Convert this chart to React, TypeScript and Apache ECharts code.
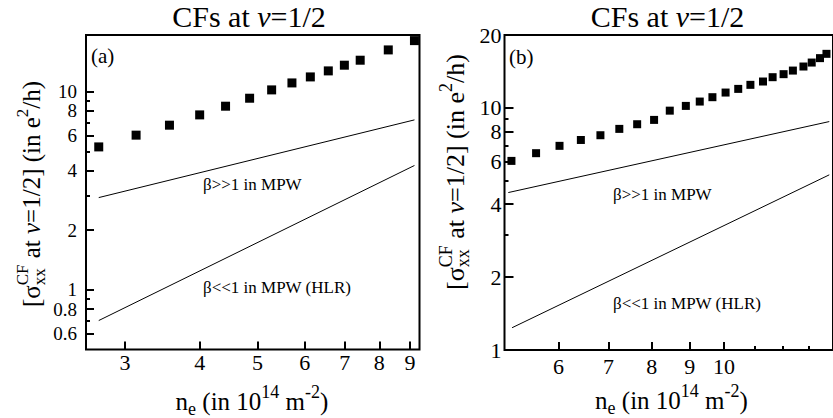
import React, { useEffect, useRef } from "react";
import * as echarts from "echarts";

const FONT = "Liberation Serif, DejaVu Serif, serif";
const CANVAS_FONT = "Liberation Serif, serif";

// ---------- Panel (a) ----------
const aDensity = [2.71, 3.13, 3.56, 4.0, 4.42, 4.85, 5.28, 5.71, 6.13, 6.57, 6.99, 7.43, 8.28, 9.16];
const aSigma = [5.26, 6.03, 6.77, 7.63, 8.44, 9.26, 10.2, 11.06, 11.86, 12.72, 13.59, 14.4, 16.23, 18.08];
const aLineX = [2.71, 9.16];
const aMpwLarge = [2.92, 7.2];
const aMpwSmall = [0.7, 4.24];
const aXRange = [2.58, 9.34];
const aYRange = [0.5, 19.3];
const aXMajor = [3, 4, 5, 6, 7, 8, 9];
const aYMajor = [0.6, 0.8, 1, 2, 4, 6, 8, 10];
const aYLabelsSetA = [0.6, 1, 2, 4, 6, 10];
const aYLabelsSetB = [0.8, 8];
const aYMinor = [0.7, 0.9, 3, 5, 7, 9];

// ---------- Panel (b) ----------
const bDensity = [5.19, 5.6, 6.02, 6.43, 6.83, 7.24, 7.65, 8.06, 8.46, 8.89, 9.28, 9.65, 10.05, 10.45, 10.85, 11.28, 11.62, 12.02, 12.37, 12.78, 13.11, 13.45, 13.72];
const bSigma = [6.04, 6.5, 6.97, 7.37, 7.71, 8.19, 8.56, 8.92, 9.74, 10.19, 10.62, 11.07, 11.57, 11.98, 12.45, 12.85, 13.39, 13.78, 14.26, 14.82, 15.39, 16.05, 16.72];
const bLargeX = [5.14, 13.84];
const bMpwLarge = [4.47, 8.78];
const bSmallX = [5.2, 13.84];
const bMpwSmall = [1.236, 5.29];
const bXRange = [5.08, 14];
const bYRange = [1, 20];
const bXMajor = [6, 7, 8, 9, 10];
const bXMinor = [11, 12, 13];
const bYMajor = [1, 2, 4, 6, 8, 10, 20];
const bYMinor = [3, 5, 7, 9];

const L = (v: number) => Math.log10(v);
const fmt = (v: number) => String(parseFloat(Math.pow(10, v).toPrecision(4)));

type Run = { t: string; s: number; dy?: number; it?: boolean; keep?: boolean };

function layoutRuns(ctx: CanvasRenderingContext2D, runs: Run[], originX: number) {
  let x = originX;
  let pending = 0;
  const els: any[] = [];
  runs.forEach((r) => {
    ctx.font = `${r.it ? "italic " : ""}${r.s}px ${CANVAS_FONT}`;
    const w = ctx.measureText(r.t).width;
    els.push({
      type: "text",
      x,
      y: r.dy || 0,
      silent: true,
      style: {
        text: r.t,
        font: `${r.it ? "italic " : ""}${r.s}px ${FONT}`,
        fill: "#000",
        align: "left",
        textAlign: "left",
        verticalAlign: "middle",
        textVerticalAlign: "middle",
      },
    });
    if (r.keep) {
      pending = w;
    } else {
      x += Math.max(w, pending);
      pending = 0;
    }
  });
  return { els, width: x - originX };
}

function centeredGroup(ctx: CanvasRenderingContext2D, runs: Run[], cx: number, cy: number, rotation = 0) {
  const { width } = layoutRuns(ctx, runs, 0);
  const { els } = layoutRuns(ctx, runs, -width / 2);
  return { type: "group", x: cx, y: cy, rotation, children: els };
}

type AxisOpts = {
  grid: number;
  range: number[];
  ticks?: number[];
  len?: number;
  labels?: number[];
  margin?: number;
  size?: number;
  position: string;
};

function makeAxis(o: AxisOpts) {
  const tickVals = (o.ticks || []).map(L);
  const labelVals = (o.labels || []).map(L);
  return {
    type: "value",
    gridIndex: o.grid,
    position: o.position,
    offset: 0,
    min: L(o.range[0]),
    max: L(o.range[1]),
    axisLine: { show: false, onZero: false },
    splitLine: { show: false },
    axisTick: {
      show: tickVals.length > 0,
      inside: true,
      length: o.len || 8,
      customValues: tickVals.length ? tickVals : undefined,
      lineStyle: { color: "#000", width: 2 },
    },
    axisLabel: {
      show: labelVals.length > 0,
      customValues: labelVals.length ? labelVals : undefined,
      margin: o.margin ?? 8,
      hideOverlap: false,
      showMinLabel: true,
      showMaxLabel: true,
      color: "#000",
      fontFamily: FONT,
      fontSize: o.size || 22,
      lineHeight: 14,
      formatter: (v: number) => fmt(v),
    },
  };
}

const pts = (xs: number[], ys: number[]) => xs.map((x, i) => [L(x), L(ys[i])]);

function yNameRuns(M: number, S: number): Run[] {
  return [
    { t: "[σ", s: M },
    { t: "xx", s: S, dy: 0.32 * M, keep: true },
    { t: "CF", s: S, dy: -0.36 * M },
    { t: " at ", s: M },
    { t: "ν", s: M, it: true },
    { t: "=1/2] (in e", s: M },
    { t: "2", s: S, dy: -0.36 * M },
    { t: "/h)", s: M },
  ];
}

function xNameRuns(M: number, S: number): Run[] {
  return [
    { t: "n", s: M },
    { t: "e", s: S, dy: 0.32 * M },
    { t: " (in 10", s: M },
    { t: "14", s: S, dy: -0.36 * M },
    { t: " m", s: M },
    { t: "-2", s: S, dy: -0.36 * M },
    { t: ")", s: M },
  ];
}

export default function App() {
  const ref = useRef<HTMLDivElement>(null);
  useEffect(() => {
    document.body.style.margin = "0";
    if (!ref.current) return;
    const chart = echarts.init(ref.current, undefined, { renderer: "svg" });
    const ctx = document.createElement("canvas").getContext("2d") as CanvasRenderingContext2D;

    const titleRuns: Run[] = [
      { t: "CFs at ", s: 30 },
      { t: "ν", s: 30, it: true },
      { t: "=1/2", s: 30 },
    ];

    const note = (text: string, x: number, y: number, size: number) => ({
      type: "text",
      x,
      y,
      silent: true,
      style: {
        text,
        font: `${size}px ${FONT}`,
        fill: "#000",
        align: "left",
        textAlign: "left",
        verticalAlign: "middle",
        textVerticalAlign: "middle",
      },
    });

    const lineStyle = { color: "#000", width: 1 };
    const squares = { color: "#000", opacity: 1 };

    chart.setOption({
      animation: false,
      backgroundColor: "#fff",
      grid: [
        { left: 86, top: 35, width: 333.5, height: 314.5, show: true, borderColor: "#000", borderWidth: 2, backgroundColor: "transparent" },
        { left: 504.5, top: 35, width: 331, height: 315, show: true, borderColor: "#000", borderWidth: 2, backgroundColor: "transparent" },
      ],
      xAxis: [
        makeAxis({ grid: 0, range: aXRange, ticks: aXMajor, len: 8, labels: aXMajor, margin: 6, position: "bottom" }),
        makeAxis({ grid: 1, range: bXRange, ticks: bXMajor, len: 8, labels: bXMajor, margin: 9, position: "bottom" }),
        makeAxis({ grid: 1, range: bXRange, ticks: bXMinor, len: 4, position: "bottom" }),
      ],
      yAxis: [
        makeAxis({ grid: 0, range: aYRange, ticks: aYMajor, len: 8, labels: aYLabelsSetA, margin: 9, size: 19, position: "left" }),
        makeAxis({ grid: 0, range: aYRange, ticks: aYMinor, len: 4, position: "left" }),
        makeAxis({ grid: 1, range: bYRange, ticks: bYMajor, len: 9, labels: bYMajor, margin: 3, position: "left" }),
        makeAxis({ grid: 1, range: bYRange, ticks: bYMinor, len: 4, position: "left" }),
        makeAxis({ grid: 0, range: aYRange, labels: aYLabelsSetB, margin: 9, size: 19, position: "left" }),
      ],
      series: [
        { type: "line", xAxisIndex: 0, yAxisIndex: 0, data: pts(aLineX, aMpwLarge), symbol: "none", lineStyle },
        { type: "line", xAxisIndex: 0, yAxisIndex: 0, data: pts(aLineX, aMpwSmall), symbol: "none", lineStyle },
        { type: "scatter", xAxisIndex: 0, yAxisIndex: 0, data: pts(aDensity, aSigma), symbol: "rect", symbolSize: 9, itemStyle: squares },
        { type: "line", xAxisIndex: 1, yAxisIndex: 2, data: pts(bLargeX, bMpwLarge), symbol: "none", lineStyle },
        { type: "line", xAxisIndex: 1, yAxisIndex: 2, data: pts(bSmallX, bMpwSmall), symbol: "none", lineStyle },
        { type: "scatter", xAxisIndex: 1, yAxisIndex: 2, data: pts(bDensity, bSigma), symbol: "rect", symbolSize: 8, itemStyle: squares },
      ],
      graphic: [
        centeredGroup(ctx, titleRuns, 249, 16),
        centeredGroup(ctx, titleRuns, 667.5, 16),
        centeredGroup(ctx, xNameRuns(25, 18), 252, 401),
        centeredGroup(ctx, xNameRuns(25, 18), 671.5, 400),
        centeredGroup(ctx, yNameRuns(25, 17), 31, 194, Math.PI / 2),
        centeredGroup(ctx, yNameRuns(26, 18), 455, 172, Math.PI / 2),
        note("(a)", 91, 56, 21),
        note("(b)", 509, 57, 21),
        note("β>>1 in MPW", 203, 184, 17),
        note("β<<1 in MPW (HLR)", 203, 287, 17),
        note("β>>1 in MPW", 613, 194, 17),
        note("β<<1 in MPW (HLR)", 613, 303, 17),
      ],
    });
    return () => chart.dispose();
  }, []);
  return <div ref={ref} style={{ width: 833, height: 418 }} />;
}
